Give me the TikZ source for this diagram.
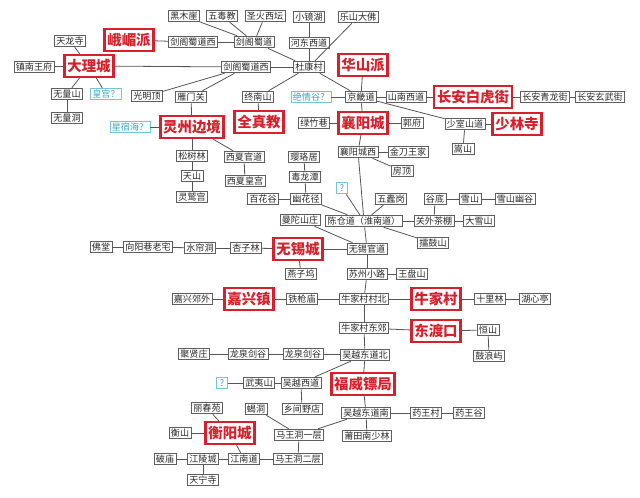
\documentclass[tikz,border=0pt]{standalone}
\usepackage{fontspec}
\setmainfont{Noto Sans CJK SC}
\definecolor{myred}{RGB}{214,32,44}
\definecolor{boxgray}{RGB}{95,95,95}
\definecolor{txtgray}{RGB}{40,40,40}
\definecolor{linegray}{RGB}{85,85,85}
\definecolor{tealt}{RGB}{55,165,200}
\definecolor{tealb}{RGB}{120,195,215}
\tikzset{
  sb/.style={draw=boxgray, line width=0.6pt, text=txtgray, font={\fontsize{6.8}{7}\selectfont}, inner xsep=1.4pt, inner ysep=0.8pt, minimum height=8.8pt},
  rb/.style={draw=myred, line width=1.7pt, text=myred, font={\fontsize{10.8}{11}\selectfont\bfseries}, inner xsep=2.1pt, inner ysep=0.6pt, minimum height=16.5pt},
  tb/.style={draw=tealb, line width=0.6pt, text=tealt, font={\fontsize{6.8}{7}\selectfont}, inner xsep=1.4pt, inner ysep=0.8pt, minimum height=8.8pt},
  ln/.style={draw=linegray, line width=0.6pt}
}
\begin{document}
\begin{tikzpicture}[x=0.75pt,y=-0.75pt]
\useasboundingbox (0,0) rectangle (640,497);
\node[sb] (heimu) at (184,16) {黑木崖};
\node[sb] (wudu) at (222,16) {五毒教};
\node[sb] (shenghuo) at (265,16) {圣火西坛};
\node[sb] (xiaojing) at (309,17) {小镜湖};
\node[sb] (leshan) at (358,17) {乐山大佛};
\node[sb] (tianlong) at (70,41) {天龙寺};
\node[rb] (emei) at (129,40) {峨嵋派};
\node[sb] (jgxA) at (193,42) {剑阁蜀道西};
\node[sb] (jgA) at (254,42) {剑阁蜀道};
\node[sb] (hedong) at (309,43) {河东西道};
\node[sb] (zhennan) at (34,67) {镇南王府};
\node[rb] (dali) at (89,66) {大理城};
\node[sb] (jgxB) at (246,67) {剑阁蜀道西};
\node[sb] (dukang) at (309,67) {杜康村};
\node[rb] (huashan) at (363,65) {华山派};
\node[sb] (wuliangshan) at (67,94) {无量山};
\node[tb] (huanggong) at (106,94) {皇宫？};
\node[sb] (guangming) at (147,96) {光明顶};
\node[sb] (yanmen) at (191,97) {雁门关};
\node[sb] (zhongnan) at (258,97) {终南山};
\node[tb] (jueqing) at (311,97) {绝情谷？};
\node[sb] (jingji) at (361,97) {京畿道};
\node[sb] (shannan) at (406,97) {山南西道};
\node[rb] (baihu) at (473,97) {长安白虎街};
\node[sb] (qinglong) at (545,97) {长安青龙街};
\node[sb] (xuanwu) at (600,97) {长安玄武街};
\node[sb] (wuliangdong) at (67,118) {无量洞};
\node[tb] (xingxiu) at (130,127) {星宿海？};
\node[rb] (lingzhou) at (192,127) {灵州边境};
\node[rb] (quanzhen) at (259,122) {全真教};
\node[sb] (lvzhu) at (314,123) {绿竹巷};
\node[rb] (xiangyang) at (363,123) {襄阳城};
\node[sb] (guofu) at (412,123) {郭府};
\node[sb] (shaoshi) at (465,124) {少室山道};
\node[rb] (shaolin) at (517,124) {少林寺};
\node[sb] (songshan) at (463,149) {嵩山};
\node[sb] (songshu) at (192,156) {松树林};
\node[sb] (xixiaguan) at (244,157) {西夏官道};
\node[sb] (yingluo) at (304,157) {璎珞居};
\node[sb] (xyxi) at (358,152) {襄阳城西};
\node[sb] (jindao) at (408,152) {金刀王家};
\node[sb] (fangding) at (402,171) {房顶};
\node[sb] (tianshan) at (192,176) {天山};
\node[sb] (xixiahuang) at (245,181) {西夏皇宫};
\node[sb] (dulong) at (305,177) {毒龙潭};
\node[sb] (lingjiu) at (192,197) {灵鹫宫};
\node[sb] (baihua) at (263,199) {百花谷};
\node[sb] (youhua) at (306,199) {幽花径};
\node[tb,minimum width=8.8pt] (qa) at (342,188) {?};
\node[sb] (wudugang) at (391,199) {五蠹岗};
\node[sb] (gudi) at (435,199) {谷底};
\node[sb] (xueshan) at (470,199) {雪山};
\node[sb] (xueshanyou) at (515,199) {雪山幽谷};
\node[sb] (mantuo) at (300,220) {曼陀山庄};
\node[sb] (chencang) at (364,221) {陈仓道（淮南道）};
\node[sb] (guanwai) at (434,221) {关外茶棚};
\node[sb] (daxue) at (479,221) {大雪山};
\node[sb] (leigu) at (433,243) {擂鼓山};
\node[sb] (fotang) at (101,247) {佛堂};
\node[sb] (xyxiang) at (148,247) {向阳巷老宅};
\node[sb] (shuilian) at (200,248) {水帘洞};
\node[sb] (xingzi) at (246,248) {杏子林};
\node[rb] (wuxi) at (298,249) {无锡城};
\node[sb] (wuxiguan) at (367,249) {无锡官道};
\node[sb] (yanziwu) at (301,274) {燕子坞};
\node[sb] (suzhou) at (367,274) {苏州小路};
\node[sb] (wangpan) at (412,274) {王盘山};
\node[sb] (jxjiao) at (192,299) {嘉兴郊外};
\node[rb] (jiaxing) at (249,299) {嘉兴镇};
\node[sb] (tieqiang) at (302,299) {铁枪庙};
\node[sb] (niubei) at (364,299) {牛家村村北};
\node[rb] (niujia) at (436,299) {牛家村};
\node[sb] (shili) at (490,299) {十里林};
\node[sb] (huxin) at (535,299) {湖心亭};
\node[sb] (niudong) at (364,328) {牛家村东郊};
\node[rb] (dongdu) at (436,331) {东渡口};
\node[sb] (hengshan) at (488,330) {恒山};
\node[sb] (gulang) at (489,356) {鼓浪屿};
\node[sb] (juxian) at (194,354) {聚贤庄};
\node[sb] (lqA) at (248,354) {龙泉剑谷};
\node[sb] (lqB) at (303,354) {龙泉剑谷};
\node[sb] (wydbei) at (365,355) {吴越东道北};
\node[rb] (fuwei) at (363,384) {福威镖局};
\node[tb,minimum width=8.8pt] (qb) at (222,383) {?};
\node[sb] (wuyi) at (259,383) {武夷山};
\node[sb] (wyxi) at (301,383) {吴越西道};
\node[sb] (lichun) at (207,408) {丽春苑};
\node[sb] (xiedong) at (256,409) {蝎洞};
\node[sb] (xiangjian) at (302,409) {乡间野店};
\node[sb] (wydnan) at (366,413) {吴越东道南};
\node[sb] (ywcun) at (426,413) {药王村};
\node[sb] (ywgu) at (469,413) {药王谷};
\node[sb] (hengshanB) at (180,433) {衡山};
\node[rb] (hengyang) at (230,433) {衡阳城};
\node[sb] (mwd1) at (299,435) {马王洞一层};
\node[sb] (putian) at (367,436) {莆田南少林};
\node[sb] (pomiao) at (165,459) {破庙};
\node[sb] (jiangling) at (203,459) {江陵城};
\node[sb] (jiangnan) at (244,459) {江南道};
\node[sb] (mwd2) at (298,459) {马王洞二层};
\node[sb] (tianning) at (203,480) {天宁寺};
\foreach \a/\b in {tianlong/dali, zhennan/dali, dali/wuliangshan, dali/huanggong, wuliangshan/wuliangdong,
  dali/jgxB, emei/jgxA, jgxA/jgA, heimu/jgA, wudu/jgA, shenghuo/jgA, jgA/dukang, xiaojing/hedong,
  hedong/dukang, leshan/dukang, jgxB/dukang, guangming/jgxB, yanmen/jgxB, dukang/zhongnan, dukang/jingji,
  huashan/jingji, jingji/xiangyang, jueqing/jingji, jingji/shannan, shannan/baihu, baihu/qinglong,
  qinglong/xuanwu, jingji/shaoshi, shaoshi/shaolin, shaoshi/songshan, zhongnan/quanzhen, xingxiu/lingzhou,
  yanmen/lingzhou, lingzhou/songshu, lingzhou/xixiaguan, songshu/tianshan, tianshan/lingjiu,
  xixiaguan/xixiahuang, lvzhu/xiangyang, xiangyang/guofu, xiangyang/xyxi, xyxi/jindao, xyxi/fangding,
  xyxi/chencang, yingluo/dulong, dulong/youhua, baihua/youhua, youhua/chencang, qa/chencang,
  wudugang/chencang, chencang/guanwai, chencang/leigu, gudi/guanwai, gudi/xueshan, xueshan/xueshanyou,
  guanwai/daxue, mantuo/wuxiguan, chencang/wuxiguan, wuxi/wuxiguan, fotang/xyxiang, xyxiang/shuilian,
  shuilian/xingzi, xingzi/wuxi, wuxi/yanziwu, wuxiguan/suzhou, suzhou/wangpan, suzhou/niubei,
  jxjiao/jiaxing, jiaxing/tieqiang, tieqiang/niubei, niubei/niujia, niujia/shili, shili/huxin,
  niubei/niudong, niudong/dongdu, dongdu/hengshan, hengshan/gulang, niudong/wydbei, juxian/lqA, lqA/lqB,
  lqB/wydbei, wydbei/wyxi, wydbei/fuwei, fuwei/wydnan, qb/wuyi, wuyi/wyxi, wyxi/xiangjian, wydnan/ywcun,
  ywcun/ywgu, wydnan/putian, wydnan/mwd1, xiedong/mwd1, mwd1/mwd2, mwd2/jiangnan, jiangnan/hengyang,
  jiangnan/jiangling, jiangling/pomiao, jiangling/tianning, hengshanB/hengyang, lichun/hengyang}
  \draw[ln] (\a) -- (\b);
\end{tikzpicture}
\end{document}
